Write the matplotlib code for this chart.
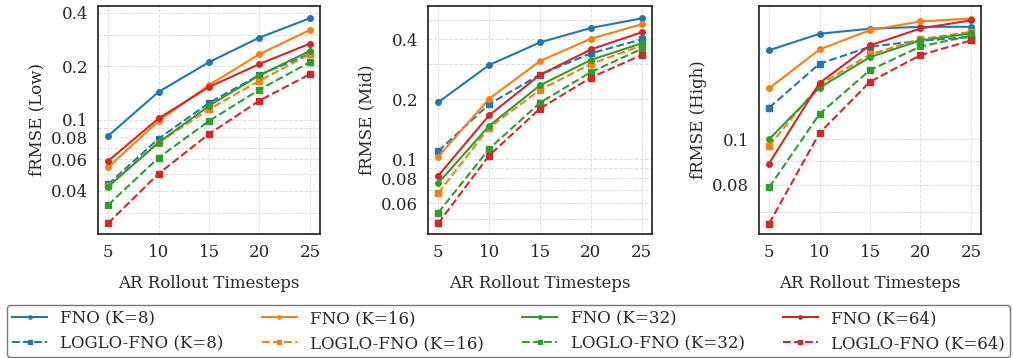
import matplotlib
matplotlib.use("Agg")
import matplotlib.pyplot as plt
from matplotlib.ticker import FixedLocator, FixedFormatter, NullFormatter

# ---- data ----
steps = [5, 10, 15, 20, 25]
k_values = [8, 16, 32, 64]
colors = ["#1f77b4", "#ff7f0e", "#2ca02c", "#d62728"]

low_fno = {
    8: [0.0813, 0.1437, 0.211, 0.290, 0.372],
    16: [0.0542, 0.0987, 0.157, 0.234, 0.320],
    32: [0.0422, 0.0746, 0.120, 0.178, 0.244],
    64: [0.0588, 0.102, 0.153, 0.206, 0.268],
}
low_loglo = {
    8: [0.0435, 0.0785, 0.1246, 0.179, 0.235],
    16: [0.0426, 0.0746, 0.1148, 0.166, 0.234],
    32: [0.0333, 0.0614, 0.0986, 0.148, 0.211],
    64: [0.0263, 0.0499, 0.0834, 0.1284, 0.1806],
}
mid_fno = {
    8: [0.193, 0.297, 0.386, 0.456, 0.510],
    16: [0.103, 0.201, 0.311, 0.403, 0.476],
    32: [0.0758, 0.147, 0.235, 0.315, 0.382],
    64: [0.0825, 0.166, 0.265, 0.356, 0.434],
}
mid_loglo = {
    8: [0.1097, 0.189, 0.266, 0.340, 0.400],
    16: [0.0675, 0.144, 0.223, 0.301, 0.372],
    32: [0.0538, 0.1127, 0.192, 0.274, 0.358],
    64: [0.0476, 0.1043, 0.1796, 0.257, 0.334],
}
high_fno = {
    8: [0.1546, 0.1676, 0.1718, 0.1734, 0.1734],
    16: [0.1283, 0.1552, 0.1706, 0.178, 0.1806],
    32: [0.100, 0.1287, 0.1495, 0.1622, 0.1679],
    64: [0.0888, 0.1317, 0.1583, 0.172, 0.179],
}
high_loglo = {
    8: [0.1167, 0.1447, 0.1573, 0.162, 0.1649],
    16: [0.0968, 0.1306, 0.1515, 0.1633, 0.1692],
    32: [0.079, 0.1132, 0.1403, 0.1575, 0.166],
    64: [0.0662, 0.1031, 0.1325, 0.151, 0.1622],
}

panels = [
    ("fRMSE (Low)", low_fno, low_loglo, (0.0229, 0.436),
     [0.04, 0.06, 0.08, 0.1, 0.2, 0.4], [0.03, 0.05, 0.07, 0.09, 0.3]),
    ("fRMSE (Mid)", mid_fno, mid_loglo, (0.0421, 0.588),
     [0.06, 0.08, 0.1, 0.2, 0.4], [0.05, 0.07, 0.09, 0.3, 0.5]),
    ("fRMSE (High)", high_fno, high_loglo, (0.0629, 0.192),
     [0.08, 0.1], [0.07, 0.09]),
]
x_label = "AR Rollout Timesteps"

# ---- style ----
plt.rcParams["font.family"] = ["DejaVu Serif"]
plt.rcParams["text.color"] = "#262626"
plt.rcParams["axes.labelcolor"] = "#262626"
plt.rcParams["xtick.color"] = "#262626"
plt.rcParams["ytick.color"] = "#262626"

FS = 12
W, H = 1013, 358
fig = plt.figure(figsize=(W / 100, H / 100), dpi=100)

lefts = [98, 428, 759]
widths = [222, 224, 222]
top_px, bot_px = 6, 234

handles = {}
for i, (ylabel, fno, loglo, ylim, majors, minors) in enumerate(panels):
    ax = fig.add_axes([lefts[i] / W, (H - bot_px) / H, widths[i] / W, (bot_px - top_px) / H])
    for k, c in zip(k_values, colors):
        h1, = ax.plot(steps, fno[k], "-o", color=c, lw=1.5, ms=4, label=f"FNO (K={k})")
        h2, = ax.plot(steps, loglo[k], "--s", color=c, lw=1.5, ms=4, label=f"LOGLO-FNO (K={k})")
        handles[("fno", k)] = h1
        handles[("loglo", k)] = h2
    ax.set_yscale("log")
    ax.set_ylim(*ylim)
    ax.set_xlim(4, 26)
    ax.set_xticks(steps)
    ax.yaxis.set_major_locator(FixedLocator(majors))
    ax.yaxis.set_major_formatter(FixedFormatter([f"{v:g}" for v in majors]))
    ax.yaxis.set_minor_locator(FixedLocator(minors))
    ax.yaxis.set_minor_formatter(NullFormatter())
    ax.tick_params(which="both", length=0, labelsize=FS, pad=7)
    ax.grid(True, which="both", ls="--", lw=0.7, color="#dddddd")
    ax.set_axisbelow(True)
    for s in ax.spines.values():
        s.set_color("#262626")
        s.set_linewidth(1.25)
    ax.set_ylabel(ylabel, fontsize=FS)
    ax.set_xlabel(x_label, fontsize=FS, labelpad=10)

order = []
for k in k_values:
    order.append(handles[("fno", k)])
    order.append(handles[("loglo", k)])
leg = fig.legend(handles=order, labels=[h.get_label() for h in order],
                 loc="lower left", bbox_to_anchor=(7 / W, 1 / H, 1003 / W, 53 / H),
                 mode="expand", ncol=4, fontsize=FS, frameon=True,
                 borderaxespad=0, handlelength=2.1, markerscale=0.6,
                 labelspacing=0.48, borderpad=0.3)
leg.get_frame().set_edgecolor("#555555")
leg.get_frame().set_linewidth(1.0)

fig.savefig("out.png", dpi=100)
